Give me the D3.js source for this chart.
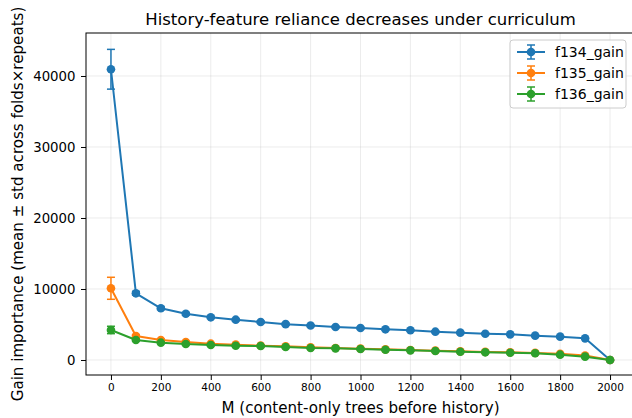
<!DOCTYPE html>
<html><head><meta charset="utf-8">
<script src="https://cdn.jsdelivr.net/npm/d3@7"></script>
<style>body{margin:0;background:#fff}svg{display:block;font-family:"DejaVu Sans",sans-serif}</style>
</head><body><svg id="c" width="632" height="418"></svg>
<script>
const mValues = [0,100,200,300,400,500,600,700,800,900,1000,1100,1200,1300,1400,1500,1600,1700,1800,1900,2000];
const f134Mean = [40950,9390,7280,6520,6010,5680,5350,5050,4850,4650,4500,4320,4180,3990,3850,3700,3610,3430,3290,3050,0];
const f134Std  = [2800,250,200,180,160,150,140,140,130,130,120,120,110,110,110,100,100,100,100,100,0];
const f135Mean = [10100,3380,2820,2540,2300,2160,2020,1920,1780,1690,1600,1500,1400,1320,1220,1140,1080,1000,870,640,0];
const f135Std  = [1550,200,150,130,120,110,100,100,90,90,80,80,80,70,70,70,60,60,60,50,0];
const f136Mean = [4230,2820,2440,2250,2110,2010,1970,1830,1690,1640,1550,1450,1360,1270,1170,1080,1030,940,750,470,0];
const f136Std  = [520,120,100,90,90,80,80,80,70,70,60,60,60,60,50,50,50,50,40,40,0];
const seriesNames = ["f134_gain","f135_gain","f136_gain"];
const seriesColors = ["#1f77b4","#ff7f0e","#2ca02c"];
const xTicks = [0,200,400,600,800,1000,1200,1400,1600,1800,2000];
const yTicks = [0,10000,20000,30000,40000];
const titleText = "History-feature reliance decreases under curriculum";
const xLabel = "M (content-only trees before history)";
const yLabel = "Gain importance (mean ± std across folds×repeats)";

const series = [
  {name: seriesNames[0], color: seriesColors[0], mean: f134Mean, std: f134Std},
  {name: seriesNames[1], color: seriesColors[1], mean: f135Mean, std: f135Std},
  {name: seriesNames[2], color: seriesColors[2], mean: f136Mean, std: f136Std}
];

const svg = d3.select("#c");
const L = 86, R = 635, T = 33, B = 375;
const x = d3.scaleLinear().domain([-100, 2100]).range([L, R]);
const y = d3.scaleLinear().domain([-2113, 46056]).range([B, T]);

// grid
const g = svg.append("g");
g.selectAll(".gx").data(xTicks).join("line")
  .attr("x1", d => x(d)).attr("x2", d => x(d)).attr("y1", T).attr("y2", B)
  .attr("stroke", "#b0b0b0").attr("stroke-opacity", 0.3).attr("stroke-width", 0.8);
g.selectAll(".gy").data(yTicks).join("line")
  .attr("y1", d => y(d)).attr("y2", d => y(d)).attr("x1", L).attr("x2", R)
  .attr("stroke", "#b0b0b0").attr("stroke-opacity", 0.3).attr("stroke-width", 0.8);

// axes
const xAxis = d3.axisBottom(x).tickValues(xTicks).tickSize(5).tickPadding(4).tickFormat(d3.format("d"));
const yAxis = d3.axisLeft(y).tickValues(yTicks).tickSize(5).tickPadding(5.5).tickFormat(d3.format("d"));
const gx = svg.append("g").attr("transform", `translate(0,${B})`).call(xAxis);
const gy = svg.append("g").attr("transform", `translate(${L},0)`).call(yAxis);
[gx, gy].forEach(a => {
  a.select(".domain").remove();
  a.selectAll("line").attr("stroke", "#000").attr("stroke-width", 1);
  a.selectAll("text").attr("fill", "#000").style("font-family", "DejaVu Sans");
});
gx.selectAll("text").style("font-size", "10.5px");
gy.selectAll("text").style("font-size", "13.3px");
// spines
svg.append("rect").attr("x", L).attr("y", T).attr("width", R - L).attr("height", B - T)
  .attr("fill", "none").attr("stroke", "#000").attr("stroke-width", 1);

// series
const line = d3.line().x((d, i) => x(mValues[i])).y(d => y(d));
series.forEach(s => {
  const sg = svg.append("g");
  sg.append("path").datum(s.mean).attr("d", line).attr("fill", "none")
    .attr("stroke", s.color).attr("stroke-width", 2).attr("stroke-linejoin", "round");
  const eb = sg.selectAll(".eb").data(s.mean.map((m, i) => ({m, sd: s.std[i], xv: mValues[i]}))).join("g");
  eb.append("line").attr("x1", d => x(d.xv)).attr("x2", d => x(d.xv))
    .attr("y1", d => y(d.m - d.sd)).attr("y2", d => y(d.m + d.sd))
    .attr("stroke", s.color).attr("stroke-width", 1.5);
  [1, -1].forEach(sign => {
    eb.append("line").attr("x1", d => x(d.xv) - 4).attr("x2", d => x(d.xv) + 4)
      .attr("y1", d => y(d.m + sign * d.sd)).attr("y2", d => y(d.m + sign * d.sd))
      .attr("stroke", s.color).attr("stroke-width", 1.5);
  });
  sg.selectAll("circle").data(s.mean).join("circle")
    .attr("cx", (d, i) => x(mValues[i])).attr("cy", d => y(d)).attr("r", 4.3)
    .attr("fill", s.color);
});

// title & labels
svg.append("text").attr("x", (L + R) / 2).attr("y", 25).attr("text-anchor", "middle")
  .style("font-size", "16.5px").attr("fill", "#000").text(titleText);
svg.append("text").attr("x", (L + R) / 2).attr("y", 413).attr("text-anchor", "middle")
  .style("font-size", "15.1px").attr("fill", "#000").text(xLabel);
svg.append("text").attr("transform", `translate(23,${(T + B) / 2}) rotate(-90)`).attr("text-anchor", "middle")
  .style("font-size", "15.1px").attr("fill", "#000").text(yLabel);

// legend
const lg = svg.append("g").attr("transform", "translate(510,40)");
lg.append("rect").attr("width", 116).attr("height", 68).attr("rx", 3)
  .attr("fill", "#fff").attr("fill-opacity", 0.8).attr("stroke", "#ccc").attr("stroke-width", 1);
series.forEach((s, i) => {
  const cy = 12 + i * 21, cx = 21;
  const it = lg.append("g");
  it.append("line").attr("x1", cx - 14).attr("x2", cx + 14).attr("y1", cy).attr("y2", cy)
    .attr("stroke", s.color).attr("stroke-width", 2);
  it.append("line").attr("x1", cx).attr("x2", cx).attr("y1", cy - 7).attr("y2", cy + 7)
    .attr("stroke", s.color).attr("stroke-width", 1.5);
  [-7, 7].forEach(o => it.append("line").attr("x1", cx - 4).attr("x2", cx + 4).attr("y1", cy + o).attr("y2", cy + o)
    .attr("stroke", s.color).attr("stroke-width", 1.5));
  it.append("circle").attr("cx", cx).attr("cy", cy).attr("r", 4.3).attr("fill", s.color);
  it.append("text").attr("x", 45).attr("y", cy + 5).style("font-size", "14px").attr("fill", "#000").text(s.name);
});
</script></body></html>
